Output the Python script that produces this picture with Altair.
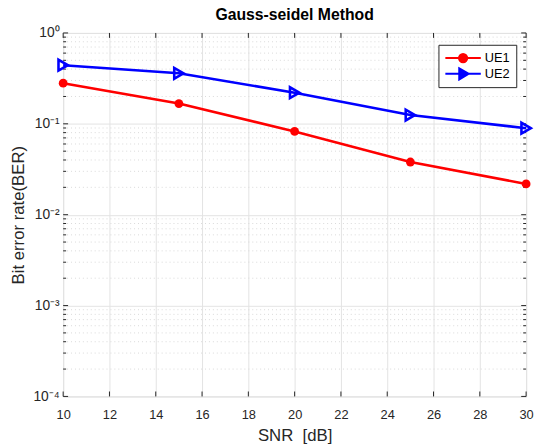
import altair as alt
import pandas as pd

snr = [10, 15, 20, 25, 30]
ue1 = [0.280, 0.167, 0.0824, 0.038, 0.0218]
ue2 = [0.442, 0.360, 0.220, 0.125, 0.0895]
series_names = ["UE1", "UE2"]
x_ticks = list(range(10, 31, 2))
y_major = [1e-4, 1e-3, 1e-2, 1e-1, 1e0]
y_minor = [k * 10.0 ** d for d in range(-4, 0) for k in range(2, 10)]

RED = "#ff0000"
BLUE = "#0000ff"
AX = "#262626"
FONT = "Liberation Sans"
W, H = 470, 369

df = pd.DataFrame({
    "x": snr * 2,
    "y": ue1 + ue2,
    "series": ["UE1"] * len(snr) + ["UE2"] * len(snr),
})
df_xt = pd.DataFrame({"x": x_ticks})
df_ymaj = pd.DataFrame({"y": y_major})
df_ymin = pd.DataFrame({"y": y_minor})

xs = alt.Scale(domain=[10, 30], nice=False, zero=False)
ys = alt.Scale(type="log", domain=[1e-4, 1], nice=False)

label_expr = ("datum.value >= 0.5 ? '10⁰' : datum.value >= 0.05 ? '10⁻¹' : "
              "datum.value >= 0.005 ? '10⁻²' : datum.value >= 0.0005 ? '10⁻³' : '10⁻⁴'")

xaxis = alt.Axis(values=x_ticks, grid=True, gridColor="#e3e3e3", gridWidth=1,
                 ticks=False, domain=False, labelFontSize=13, labelColor=AX,
                 labelFont=FONT, labelPadding=12, title="SNR \u00a0[dB]",
                 titleFontSize=17, titleFont=FONT, titleColor=AX,
                 titleFontWeight="normal", titlePadding=7, labelFlush=False)
yaxis = alt.Axis(values=y_major, grid=True, gridColor="#e3e3e3", gridWidth=1,
                 ticks=False, domain=False, labelFontSize=14, labelColor=AX,
                 labelFont=FONT, labelPadding=4, labelExpr=label_expr,
                 title="Bit error rate(BER)", titleFontSize=17, titleFont=FONT,
                 titleColor=AX, titleFontWeight="normal", titlePadding=6,
                 labelFlush=False)

X = alt.X("x:Q", scale=xs, axis=xaxis)
Y = alt.Y("y:Q", scale=ys, axis=yaxis)

minor_grid = alt.Chart(df_ymin).mark_rule(color="#d9d9d9", strokeDash=[1, 3], strokeWidth=1).encode(
    y=Y, x=alt.value(0), x2=alt.value(W))

tick_col = AX
xt_bot = alt.Chart(df_xt).mark_rule(color=tick_col).encode(x=X, y=alt.value(H), y2=alt.value(H - 5))
xt_top = alt.Chart(df_xt).mark_rule(color=tick_col).encode(x=X, y=alt.value(0), y2=alt.value(5))
yt_l = alt.Chart(df_ymaj).mark_rule(color=tick_col).encode(y=Y, x=alt.value(0), x2=alt.value(5))
yt_r = alt.Chart(df_ymaj).mark_rule(color=tick_col).encode(y=Y, x=alt.value(W), x2=alt.value(W - 5))
ym_l = alt.Chart(df_ymin).mark_rule(color=tick_col).encode(y=Y, x=alt.value(0), x2=alt.value(3))
ym_r = alt.Chart(df_ymin).mark_rule(color=tick_col).encode(y=Y, x=alt.value(W), x2=alt.value(W - 3))

line1 = alt.Chart(df).transform_filter("datum.series == 'UE1'").mark_line(
    strokeWidth=2.6, color=RED).encode(x=X, y=Y)
line2 = alt.Chart(df).transform_filter("datum.series == 'UE2'").mark_line(
    strokeWidth=2.6, color=BLUE).encode(x=X, y=Y)
pts1 = alt.Chart(df).transform_filter("datum.series == 'UE1'").mark_point(
    shape="circle", filled=True, size=80, color=RED, opacity=1).encode(x=X, y=Y)
pts2 = alt.Chart(df).transform_filter("datum.series == 'UE2'").mark_point(
    shape="triangle-right", filled=False, size=120, color=BLUE, strokeWidth=2.6, opacity=1).encode(x=X, y=Y)

path1 = "M-3,0L3,0M0.7,0A0.7,0.7,0,1,1,-0.7,0A0.7,0.7,0,1,1,0.7,0Z"
path2 = "M-3,0L3,0M-0.65,-0.95L0.95,0L-0.65,0.95Z"

leg = alt.Legend(title=None, orient="none", legendX=381, legendY=12,
                 strokeColor=AX, fillColor="white", padding=6,
                 labelFontSize=13, labelFont=FONT, labelColor="#000000",
                 symbolSize=144, symbolStrokeWidth=2, symbolOffset=12,
                 labelOffset=15, rowPadding=1, symbolOpacity=1, clipHeight=15)
cscale = alt.Scale(domain=series_names, range=[RED, BLUE])
carrier = alt.Chart(df).mark_point(filled=True, size=144, strokeWidth=2, opacity=0).encode(
    x=X, y=Y,
    color=alt.Color("series:N", scale=cscale, legend=leg),
    stroke=alt.Stroke("series:N", scale=cscale, legend=leg),
    shape=alt.Shape("series:N", scale=alt.Scale(domain=series_names, range=[path1, path2]), legend=leg),
)

chart = alt.layer(
    minor_grid, xt_bot, xt_top, yt_l, yt_r, ym_l, ym_r, line1, line2, pts1, pts2, carrier
).properties(
    width=W, height=H,
    title=alt.Title("Gauss-seidel Method", fontSize=16, font=FONT, fontWeight="bold",
                    color="#000000", offset=3, anchor="middle"),
    autosize=alt.AutoSizeParams(type="none"),
    padding={"left": 56, "top": 22, "right": 8, "bottom": 48},
).configure_view(stroke=AX, strokeWidth=1).configure(background="white")

chart.save("out.html", embed_options={"renderer": "svg", "actions": False})
